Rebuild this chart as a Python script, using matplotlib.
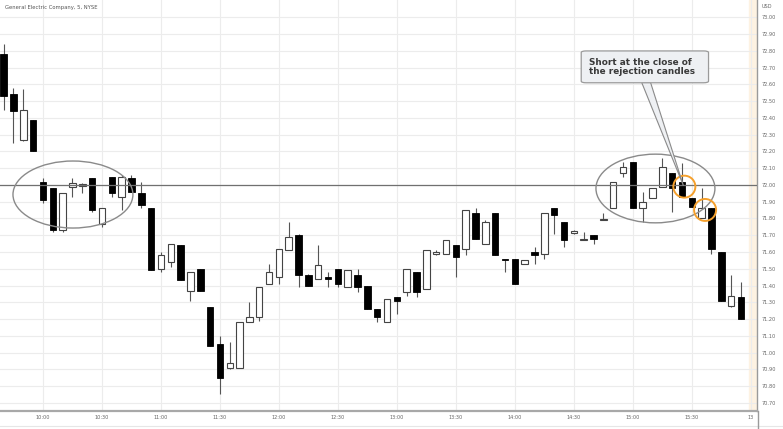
import numpy as np
import matplotlib
matplotlib.use("Agg")
import matplotlib.pyplot as plt
from matplotlib.patches import Ellipse, FancyBboxPatch, Polygon

""" data: 5 min bars of GE, bar index counted from 9:30 (10:00 -> 6) """
bar_idx = list(range(2, 78))
opens = [72.78, 72.54, 72.27, 72.39, 72.02, 71.98, 71.73, 71.99, 71.995, 72.04,
         71.77, 72.05, 71.93, 72.04, 71.95, 71.86, 71.50, 71.54, 71.64, 71.37,
         71.50, 71.27, 71.05, 70.91, 70.91, 71.18, 71.21, 71.41, 71.45, 71.61,
         71.70, 71.46, 71.44, 71.45, 71.50, 71.39, 71.46, 71.40, 71.26, 71.18,
         71.33, 71.36, 71.48, 71.38, 71.59, 71.59, 71.64, 71.62, 71.83, 71.65,
         71.83, 71.555, 71.56, 71.53, 71.60, 71.59, 71.86, 71.78, 71.715, 71.67,
         71.70, 71.79, 71.86, 72.07, 72.14, 71.86, 71.92, 71.99, 72.07, 72.02,
         71.92, 71.80, 71.86, 71.60, 71.28, 71.33]
highs = [72.84, 72.58, 72.57, 72.39, 72.04, 71.98, 71.95, 72.04, 72.01, 72.04,
         71.86, 72.05, 72.06, 72.06, 72.02, 71.86, 71.60, 71.65, 71.64, 71.48,
         71.50, 71.27, 71.10, 71.06, 71.18, 71.30, 71.39, 71.53, 71.62, 71.78,
         71.71, 71.47, 71.64, 71.48, 71.50, 71.49, 71.50, 71.40, 71.26, 71.32,
         71.33, 71.50, 71.48, 71.61, 71.61, 71.67, 71.64, 71.85, 71.86, 71.79,
         71.83, 71.555, 71.56, 71.55, 71.63, 71.83, 71.86, 71.78, 71.73, 71.72,
         71.70, 71.83, 72.02, 72.14, 72.14, 71.96, 71.98, 72.16, 72.07, 72.13,
         71.92, 71.98, 71.86, 71.60, 71.46, 71.42]
lows = [72.45, 72.25, 72.26, 72.20, 71.89, 71.72, 71.72, 71.93, 71.95, 71.84,
        71.75, 71.93, 71.85, 71.96, 71.86, 71.49, 71.48, 71.51, 71.43, 71.31,
        71.37, 71.04, 70.75, 70.90, 70.91, 71.18, 71.19, 71.41, 71.41, 71.61,
        71.39, 71.40, 71.44, 71.39, 71.39, 71.39, 71.36, 71.26, 71.18, 71.18,
        71.23, 71.34, 71.33, 71.38, 71.58, 71.59, 71.45, 71.58, 71.68, 71.65,
        71.58, 71.48, 71.41, 71.53, 71.53, 71.56, 71.71, 71.63, 71.71, 71.67,
        71.65, 71.79, 71.86, 72.05, 71.86, 71.78, 71.92, 71.99, 71.84, 71.93,
        71.87, 71.80, 71.59, 71.31, 71.27, 71.20]
closes = [72.53, 72.44, 72.45, 72.20, 71.91, 71.73, 71.95, 72.01, 72.005, 71.85,
          71.86, 71.95, 72.05, 71.96, 71.88, 71.49, 71.58, 71.65, 71.43, 71.48,
          71.37, 71.04, 70.85, 70.94, 71.18, 71.21, 71.39, 71.48, 71.62, 71.69,
          71.46, 71.40, 71.52, 71.44, 71.41, 71.49, 71.39, 71.26, 71.21, 71.32,
          71.31, 71.50, 71.36, 71.61, 71.595, 71.67, 71.57, 71.85, 71.68, 71.78,
          71.58, 71.55, 71.41, 71.55, 71.58, 71.83, 71.82, 71.67, 71.72, 71.68,
          71.68, 71.795, 72.02, 72.11, 71.86, 71.90, 71.98, 72.11, 71.98, 71.93,
          71.87, 71.86, 71.62, 71.31, 71.34, 71.20]

xtick_pos = [6, 12, 18, 24, 30, 36, 42, 48, 54, 60, 66, 72, 78]
xtick_lab = ["10:00", "10:30", "11:00", "11:30", "12:00", "12:30", "13:00",
             "13:30", "14:00", "14:30", "15:00", "15:30", "13"]
level = 72.00

W, H = 783, 429
fig = plt.figure(figsize=(W/100., H/100.), dpi=100)
fig.patch.set_facecolor("white")
ax = fig.add_axes([0, 18./H, 757./W, 411./H])

# candles
x = np.array(bar_idx)
o = np.array(opens); c = np.array(closes)
hi = np.array(highs); lo = np.array(lows)
up = c >= o
ax.vlines(x, lo, hi, color="#555555", lw=0.8, zorder=2)
bot = np.minimum(o, c)
hgt = np.maximum(np.abs(c - o), 0.008)
ax.bar(x[up], hgt[up], bottom=bot[up], width=0.66, color="white",
       edgecolor="#444444", lw=0.8, zorder=3)
ax.bar(x[~up], hgt[~up], bottom=bot[~up], width=0.66, color="black",
       edgecolor="black", lw=0.6, zorder=3)

# level line
ax.axhline(level, color="#707070", lw=0.9, zorder=4)

# session band
ax.axvspan(77.85, 78.65, color="#fdf2e2", zorder=0)

# ellipses round the 72.00 rejections
ax.add_patch(Ellipse((9.05, 71.943), 12.2, 0.40, fill=False, ec="#8a8a8a", lw=1.0, zorder=5))
ax.add_patch(Ellipse((68.3, 71.979), 12.1, 0.41, fill=False, ec="#8a8a8a", lw=1.0, zorder=5))
# orange circles
ax.add_patch(Ellipse((71.24, 71.99), 2.24, 0.131, fill=False, ec="#f5a02c", lw=1.4, zorder=6))
ax.add_patch(Ellipse((73.35, 71.851), 2.24, 0.131, fill=False, ec="#f5a02c", lw=1.4, zorder=6))

# callout
ax.add_patch(Polygon([(66.9, 72.612), (67.8, 72.612), (71.15, 71.995)], closed=True,
                     fc="#eef0f3", ec="#8a8a8a", lw=0.8, zorder=7))
ax.add_patch(FancyBboxPatch((60.75, 72.61), 12.95, 0.19,
                            boxstyle="round,pad=0,rounding_size=0.5",
                            mutation_aspect=0.02,
                            fc="#eef0f3", ec="#9a9a9a", lw=0.9, zorder=8))
ax.text(61.5, 72.705, "Short at the close of\nthe rejection candles", fontsize=6.4,
        fontweight="bold", color="#3a3a3a", va="center", ha="left",
        linespacing=1.05, zorder=9)

# axes
ax.set_xlim(1.63, 78.63)
ax.set_ylim(70.651, 73.104)
ax.set_yticks(np.round(np.arange(70.7, 73.01, 0.1), 2))
ax.yaxis.set_major_formatter(matplotlib.ticker.FormatStrFormatter("%.2f"))
ax.yaxis.tick_right()
ax.set_xticks(xtick_pos)
ax.set_xticklabels(xtick_lab)
ax.tick_params(axis="both", length=0, labelsize=3.6, labelcolor="#666666")
ax.tick_params(axis="y", pad=3.5)
ax.tick_params(axis="x", pad=3.0)
ax.grid(True, color="#ececec", lw=0.8, zorder=0)
ax.set_axisbelow(True)
for s in ["left", "top"]:
    ax.spines[s].set_visible(False)
ax.spines["bottom"].set_color("#a8a8a8")
ax.spines["bottom"].set_linewidth(1.6)
ax.spines["right"].set_color("#9a9a9a")
ax.spines["right"].set_linewidth(1.0)

fig.text(5./W, 1 - 7.5/H, "General Electric Company, 5, NYSE", fontsize=3.8,
         color="#555555", va="center", ha="left")
fig.text(762./W, 1 - 7./H, "USD", fontsize=3.6, color="#666666", va="center", ha="left")
fig.add_artist(plt.Line2D([0, 1], [1 - 426./H] * 2, color="#e6e6e6", lw=0.8))
fig.add_artist(plt.Line2D([758./W] * 2, [0, 18./H], color="#9a9a9a", lw=1.0))

plt.savefig("out.png", dpi=100)
